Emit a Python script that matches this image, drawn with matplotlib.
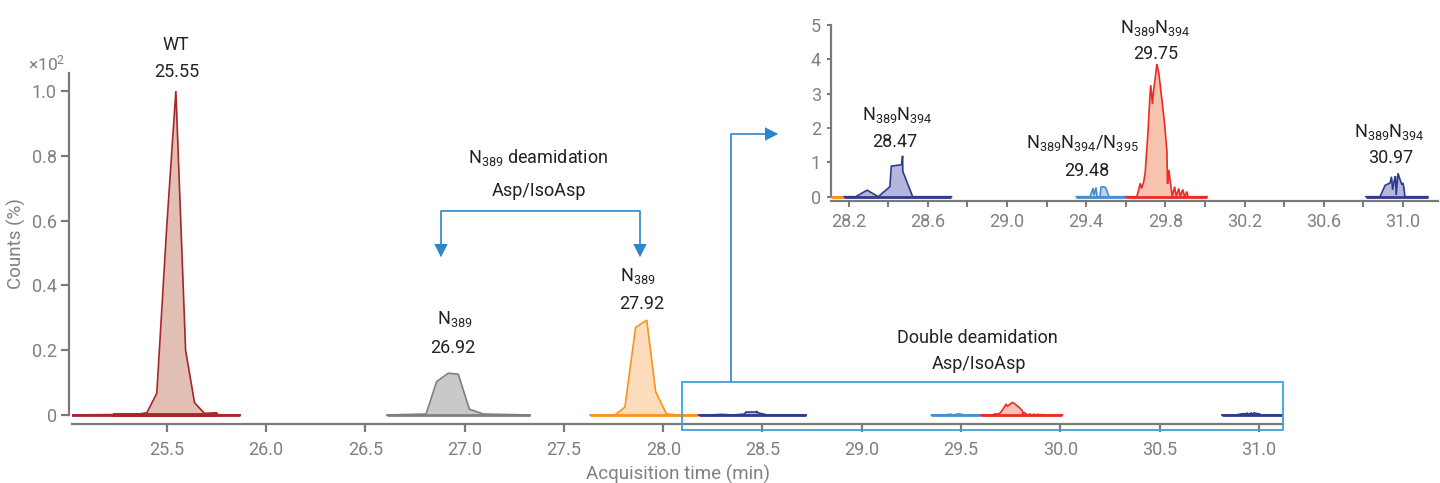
import matplotlib
matplotlib.use('Agg')
import matplotlib.pyplot as plt
from matplotlib.patches import Rectangle, Polygon
from matplotlib.lines import Line2D

plt.rcParams['font.family'] = ['Roboto', 'DejaVu Sans']
plt.rcParams['mathtext.fontset'] = 'custom'
plt.rcParams['mathtext.rm'] = 'Roboto'
plt.rcParams['mathtext.it'] = 'Roboto:italic'
plt.rcParams['mathtext.bf'] = 'Roboto:bold'

# ---------------- data ----------------
main_xticks = [25.5, 26.0, 26.5, 27.0, 27.5, 28.0, 28.5, 29.0, 29.5, 30.0, 30.5, 31.0]
main_xticklabels = ['25.5', '26.0', '26.5', '27.0', '27.5', '28.0', '28.5', '29.0', '29.5', '30.0', '30.5', '31.0']
main_yticks = [0, 0.2, 0.4, 0.6, 0.8, 1.0]
main_yticklabels = ['0', '0.2', '0.4', '0.6', '0.8', '1.0']
inset_xticks = [28.2, 28.6, 29.0, 29.4, 29.8, 30.2, 30.6, 31.0]
inset_xticklabels = ['28.2', '28.6', '29.0', '29.4', '29.8', '30.2', '30.6', '31.0']
inset_xminor = [28.4, 28.8, 29.2, 29.6, 30.0, 30.4, 30.8]
inset_yticks = [0, 1, 2, 3, 4, 5]

# WT (x10^2 counts)
wt_t = [25.02, 25.35, 25.40, 25.45, 25.50, 25.546, 25.595, 25.64, 25.69, 25.75, 25.76, 25.87]
wt_c = [0.0, 0.002, 0.007, 0.067, 0.58, 1.0, 0.20, 0.038, 0.005, 0.007, 0.0, 0.0]
wt_base2 = [25.23, 25.76]

# N389 26.92
n389a_t = [26.608, 26.806, 26.859, 26.918, 26.968, 27.024, 27.094, 27.329]
n389a_c = [0.0, 0.003, 0.103, 0.129, 0.126, 0.018, 0.003, 0.0]

# N389 27.92
n389b_t = [27.631, 27.757, 27.807, 27.861, 27.917, 27.962, 28.017, 28.075, 28.175]
n389b_c = [0.0, 0.0, 0.024, 0.27, 0.293, 0.072, 0.003, 0.0, 0.0]

# Double deamidation (counts in %)
dd1_t = [28.178, 28.236, 28.294, 28.35, 28.409, 28.416, 28.468, 28.473, 28.474, 28.524, 28.72]
dd1_c = [0.0, 0.0, 0.19, 0.0, 0.29, 0.89, 0.93, 1.19, 0.74, 0.0, 0.0]

dd2_t = [29.35, 29.42, 29.435, 29.44, 29.45, 29.455, 29.47, 29.475, 29.49, 29.50, 29.515, 29.60]
dd2_c = [0.0, 0.0, 0.25, 0.05, 0.27, 0.0, 0.0, 0.28, 0.29, 0.25, 0.0, 0.0]

dd3_t = [29.60, 29.656, 29.665, 29.673, 29.68, 29.69, 29.698, 29.712, 29.721, 29.726, 29.735,
         29.74, 29.75, 29.757, 29.767, 29.779, 29.796, 29.808, 29.811, 29.818, 29.824, 29.835,
         29.847, 29.855, 29.868, 29.875, 29.888, 29.897, 29.909, 29.914, 30.01]
dd3_c = [0.0, 0.0, 0.19, 0.39, 0.24, 0.41, 0.68, 1.84, 2.8, 3.25, 2.7,
         3.06, 3.5, 3.86, 3.6, 3.0, 2.14, 1.31, 0.37, 0.78, 0.49, 0.0,
         0.29, 0.0, 0.24, 0.0, 0.21, 0.0, 0.15, 0.0, 0.0]

dd4_t = [30.813, 30.884, 30.91, 30.935, 30.942, 30.948, 30.955, 30.962, 30.966, 30.975,
         30.985, 30.995, 31.0, 31.005, 31.01, 31.125]
dd4_c = [0.0, 0.0, 0.33, 0.40, 0.58, 0.2, 0.45, 0.6, 0.05, 0.68,
         0.5, 0.35, 0.4, 0.25, 0.0, 0.0]

# ---------------- style ----------------
W, H = 1440, 483
GRAY = '#808080'
TXT = '#222222'
ARROW = '#2b87c9'
BOX = '#3da2dc'

styles = {
    'wt': ('#a8262a', '#e2bfb3'),
    'gray': ('#7f7f7f', '#c8c9cb'),
    'orange': ('#f7931e', '#fddcbc'),
    'dblue': ('#2e3a8c', '#b4b6dc'),
    'lblue': ('#4a8ccc', '#b5d3ee'),
    'red': ('#ee2a24', '#f8c4b0'),
}


def fx(x):
    return x / W


def fy(y):
    return 1 - y / H


fig = plt.figure(figsize=(W / 100, H / 100), dpi=100)

# ---------------- main axes ----------------
ax = fig.add_axes([fx(72), fy(424), (1283 - 72) / W, (424 - 73) / H])


def draw(a, t, c, key, lw=1.2, blw=2.0, scale=1.0):
    line, fill = styles[key]
    cc = [v * scale for v in c]
    a.fill_between(t, 0, cc, color=fill, lw=0, zorder=2)
    a.plot(t, cc, color=line, lw=lw, zorder=3, solid_joinstyle='miter')
    a.plot([t[0], t[-1]], [0, 0], color=line, lw=blw, zorder=3, solid_capstyle='butt')


draw(ax, wt_t, wt_c, 'wt')
ax.plot(wt_base2, [0, 0], color=styles['wt'][0], lw=2.8, zorder=3, solid_capstyle='butt')
draw(ax, n389a_t, n389a_c, 'gray')
draw(ax, n389b_t, n389b_c, 'orange')
draw(ax, dd1_t, dd1_c, 'dblue', scale=0.01)
draw(ax, dd2_t, dd2_c, 'lblue', scale=0.01)
draw(ax, dd3_t, dd3_c, 'red', scale=0.01)
draw(ax, dd4_t, dd4_c, 'dblue', scale=0.01)

ax.set_xlim(25.023, 31.121)
ax.set_ylim(-0.0278, 1.0556)
for s in ['top', 'right']:
    ax.spines[s].set_visible(False)
for s in ['left', 'bottom']:
    ax.spines[s].set_color('#7a7a7a')
    ax.spines[s].set_linewidth(1.6)
ax.spines['left'].set_bounds(0, 1.0556)
ax.spines['left'].set_position(('outward', 2))
ax.set_xticks(main_xticks)
ax.set_xticklabels(main_xticklabels)
ax.set_yticks(main_yticks)
ax.set_yticklabels(main_yticklabels)
ax.tick_params(axis='both', colors='#7a7a7a', labelcolor=GRAY, labelsize=13,
               length=6, width=1.6, direction='out')
ax.tick_params(axis='x', pad=6)
ax.tick_params(axis='y', pad=3)
fig.text(fx(678), fy(480), 'Acquisition time (min)', color=GRAY, fontsize=13.5,
         ha='center', va='baseline')
fig.text(fx(16), fy(244), 'Counts (%)', color=GRAY, fontsize=13.5, rotation=90,
         ha='center', va='center')
fig.text(fx(47), fy(63), r'×10$^2$', color=GRAY, fontsize=12.5, ha='center', va='center')

# ---------------- inset axes ----------------
ia = fig.add_axes([fx(830.7), fy(201.5), (1438 - 830.7) / W, (201.5 - 25) / H])
draw(ia, [28.11, 28.175], [0, 0], 'orange', blw=2.0)
draw(ia, dd1_t, dd1_c, 'dblue')
draw(ia, dd2_t, dd2_c, 'lblue')
draw(ia, dd3_t, dd3_c, 'red')
draw(ia, dd4_t, dd4_c, 'dblue')
ia.set_xlim(28.11, 31.177)
ia.set_ylim(-0.14, 5.0)
for s in ['top', 'right']:
    ia.spines[s].set_visible(False)
for s in ['left', 'bottom']:
    ia.spines[s].set_color('#7a7a7a')
    ia.spines[s].set_linewidth(1.6)
ia.spines['left'].set_bounds(0, 5)
ia.set_xticks(inset_xticks)
ia.set_xticklabels(inset_xticklabels)
ia.set_xticks(inset_xminor, minor=True)
ia.set_yticks(inset_yticks)
ia.set_yticklabels([str(v) for v in inset_yticks])
ia.tick_params(axis='both', which='both', colors='#7a7a7a', labelcolor=GRAY,
               labelsize=13, length=4, width=1.4, direction='out')
ia.tick_params(axis='y', length=3, pad=4)
ia.tick_params(axis='x', pad=4)
ia.patch.set_alpha(0)

# ---------------- annotations ----------------
N389 = r'$\mathrm{N_{389}}$'
N389N394 = r'$\mathrm{N_{389}N_{394}}$'
labels = [
    ('WT', 176, 50), ('25.55', 177, 76.7),
    (N389, 455, 324.3), ('26.92', 453, 353.3),
    (N389, 638, 280.7), ('27.92', 641.7, 309),
    (N389 + ' deamidation', 538, 162.7), ('Asp/IsoAsp', 539, 196),
    ('Double deamidation', 977, 343), ('Asp/IsoAsp', 979, 369.3),
    (N389N394, 897.7, 120), ('28.47', 895, 146.7),
    (r'$\mathrm{N_{389}N_{394}/N_{395}}$', 1082.8, 148.3), ('29.48', 1087.2, 175.7),
    (N389N394, 1155.3, 33.3), ('29.75', 1155.7, 59.3),
    (N389N394, 1389, 136.7), ('30.97', 1390.3, 163.3),
]
for s, x, y in labels:
    fig.text(fx(x), fy(y), s, color=TXT, fontsize=13, ha='center', va='baseline')


def fline(xs, ys, color, lw):
    fig.add_artist(Line2D([fx(v) for v in xs], [fy(v) for v in ys], color=color,
                          lw=lw, transform=fig.transFigure, solid_capstyle='butt'))


def ftri(pts, color):
    fig.add_artist(Polygon([(fx(a), fy(b)) for a, b in pts], closed=True, color=color,
                           lw=0, transform=fig.transFigure))


# bracket arrows
fline([441, 441, 640, 640], [245, 211, 211, 245], ARROW, 1.2)
ftri([(434.3, 244), (447.7, 244), (441, 257.3)], ARROW)
ftri([(633.3, 244), (646.7, 244), (640, 257.3)], ARROW)

# box + connector
fig.add_artist(Rectangle((fx(681.7), fy(430.3)), (1283 - 681.7) / W, (430.3 - 382) / H,
                         fill=False, ec=BOX, lw=1.3, transform=fig.transFigure))
fline([731.3, 731.3, 766], [382, 133.8, 133.8], ARROW, 1.2)
ftri([(765, 127.3), (765, 140.7), (778.3, 134)], ARROW)

fig.savefig('out.png', dpi=100)
